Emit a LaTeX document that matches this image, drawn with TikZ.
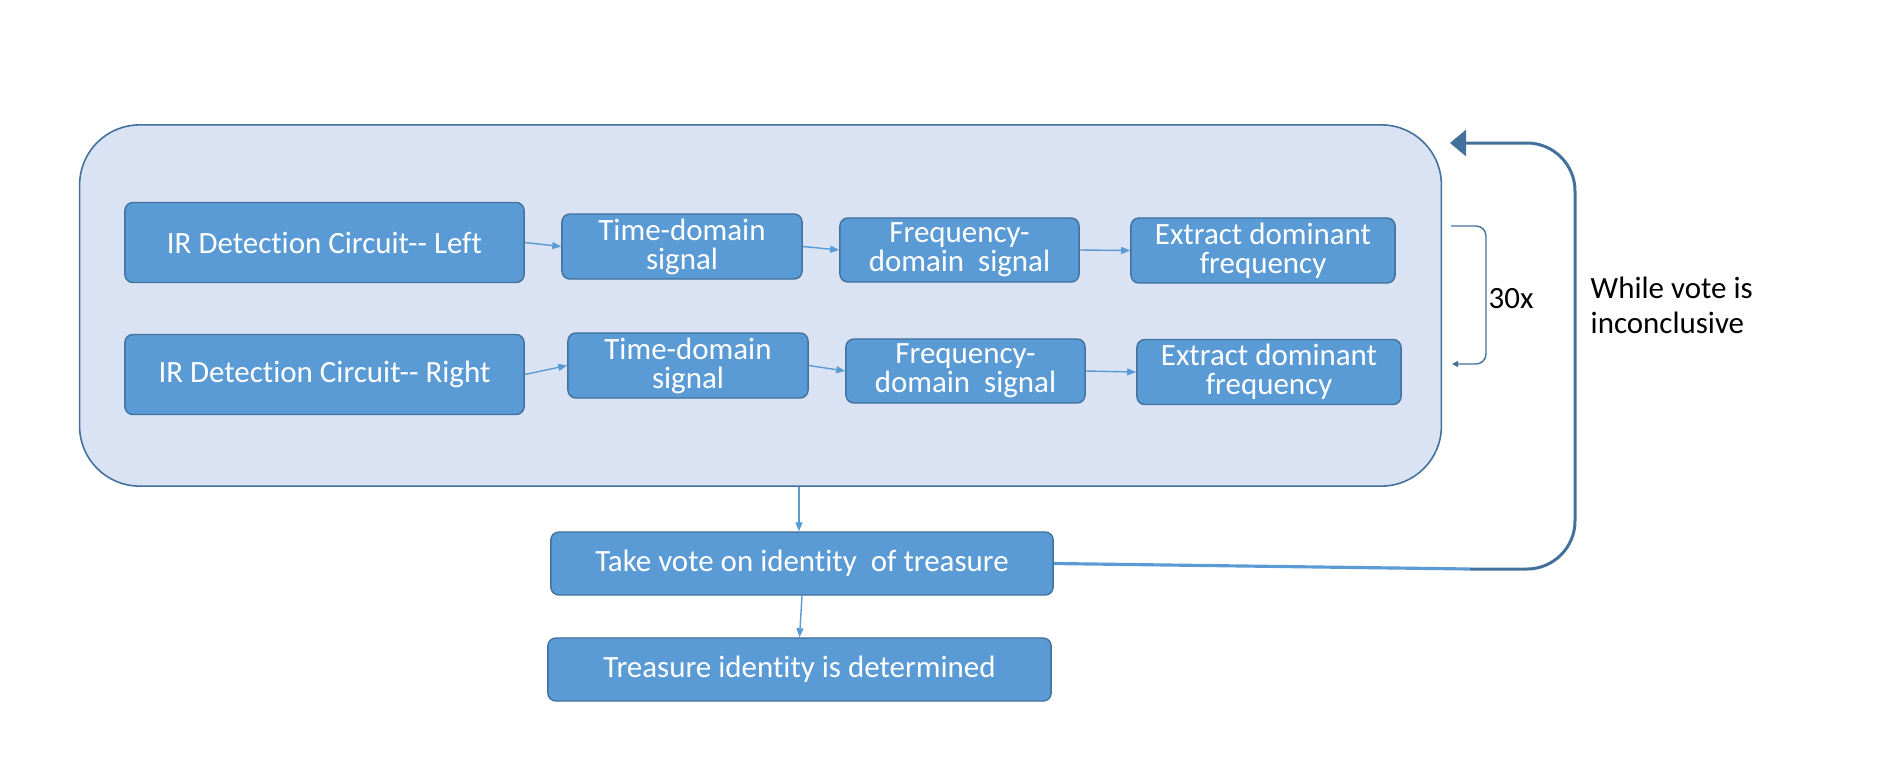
\documentclass[tikz,border=0pt]{standalone}
\usepackage{fontspec}
\setmainfont{Carlito}[Ligatures={TeX,NoCommon}]
\usepackage{xcolor}
\usetikzlibrary{arrows.meta}
\definecolor{boxblue}{HTML}{5B9BD5}
\definecolor{boxedge}{HTML}{41719C}
\definecolor{panelfill}{HTML}{DAE3F3}
\definecolor{loopblue}{HTML}{41719C}
\tikzset{
  stagebox/.style={draw=boxedge, fill=boxblue, text=white, line width=0.4pt,
    rounded corners=0.08cm, inner sep=0pt, align=center,
    font=\fontsize{8.8}{8.2}\selectfont},
  panelbox/.style={draw=boxedge, fill=panelfill, line width=0.45pt,
    rounded corners=0.6cm, inner sep=0pt,
    minimum width=13.61cm, minimum height=3.61cm},
  flowarrow/.style={draw=boxblue, line width=0.4pt,
    -{Triangle[length=0.09cm, width=0.07cm]}},
  looparrow/.style={draw=loopblue, line width=0.85pt, rounded corners=0.48cm,
    -{Triangle[length=0.16cm, width=0.26cm]}},
  repbracket/.style={draw=loopblue, line width=0.4pt, rounded corners=0.1cm,
    -{Triangle[length=0.06cm, width=0.06cm]}},
  sidelabel/.style={inner sep=0pt, text=black, font=\fontsize{8.8}{10}\selectfont}
}

\begin{document}
\begin{tikzpicture}[x=0.01cm, y=-0.01cm]
      \useasboundingbox (0,0) rectangle (1896,778);
      \node[panelbox] (panel) at (760.5,305.5) {};
      \foreach \side/\yi/\yt/\yf/\ye/\dx in {%
        Left/242.5/246.5/250/250.5/0,
        Right/374.5/365.5/371/372/6
        } {
        \node[stagebox, minimum width=3.99cm, minimum height=0.8cm]
          (ir\side) at (324.5,\yi) {IR Detection Circuit-{}- \side};
        \node[stagebox, minimum width=2.4cm, minimum height=0.65cm]
          (time\side) at (682+\dx,\yt) {Time-domain\\signal};
        \node[stagebox, minimum width=2.39cm, minimum height=0.64cm]
          (freq\side) at (959.5+\dx,\yf) {Frequency-\\domain\ \ signal};
        \node[stagebox, minimum width=2.64cm, minimum height=0.65cm]
          (peak\side) at (1263+\dx,\ye) {Extract dominant\\frequency};
        \draw[flowarrow] (ir\side.east) -- (time\side.west);
        \draw[flowarrow] (time\side.east) -- (freq\side.west);
        \draw[flowarrow] (freq\side.east) -- (peak\side.west);
      }
      \node[stagebox, minimum width=5.02cm, minimum height=0.63cm]
        (vote) at (802,563.5) {Take vote on identity\ \ of treasure};
      \node[stagebox, minimum width=5.03cm, minimum height=0.63cm]
        (result) at (799.5,669.5) {Treasure identity is determined};
      \draw[flowarrow] ([xshift=-0.03cm]panel.south -| vote.north) -- ([xshift=-0.03cm]vote.north);
      \draw[flowarrow] (vote.south) -- (result.north);
      % repeat bracket
      \coordinate (repfrom) at (1451,226);
      \coordinate (repto) at (1452,364);
      \draw[repbracket] (repfrom) -- (1486,226) -- (1486,364) -- (repto);
      \node[sidelabel] (reps) at (1511,299) {30x};
      % outer loop
      \coordinate (loopturn) at (1470,569);
      \coordinate (loopend) at (1450,143);
      \draw[boxblue, line width=0.9pt] (vote.east) -- (loopturn);
      \draw[looparrow] (loopturn) -- (1575,569) -- (1575,143) -- (loopend);
      \node[sidelabel, anchor=west, align=left]
        (cond) at (1590,305) {While vote is\\inconclusive};
    \end{tikzpicture}
\end{document}
